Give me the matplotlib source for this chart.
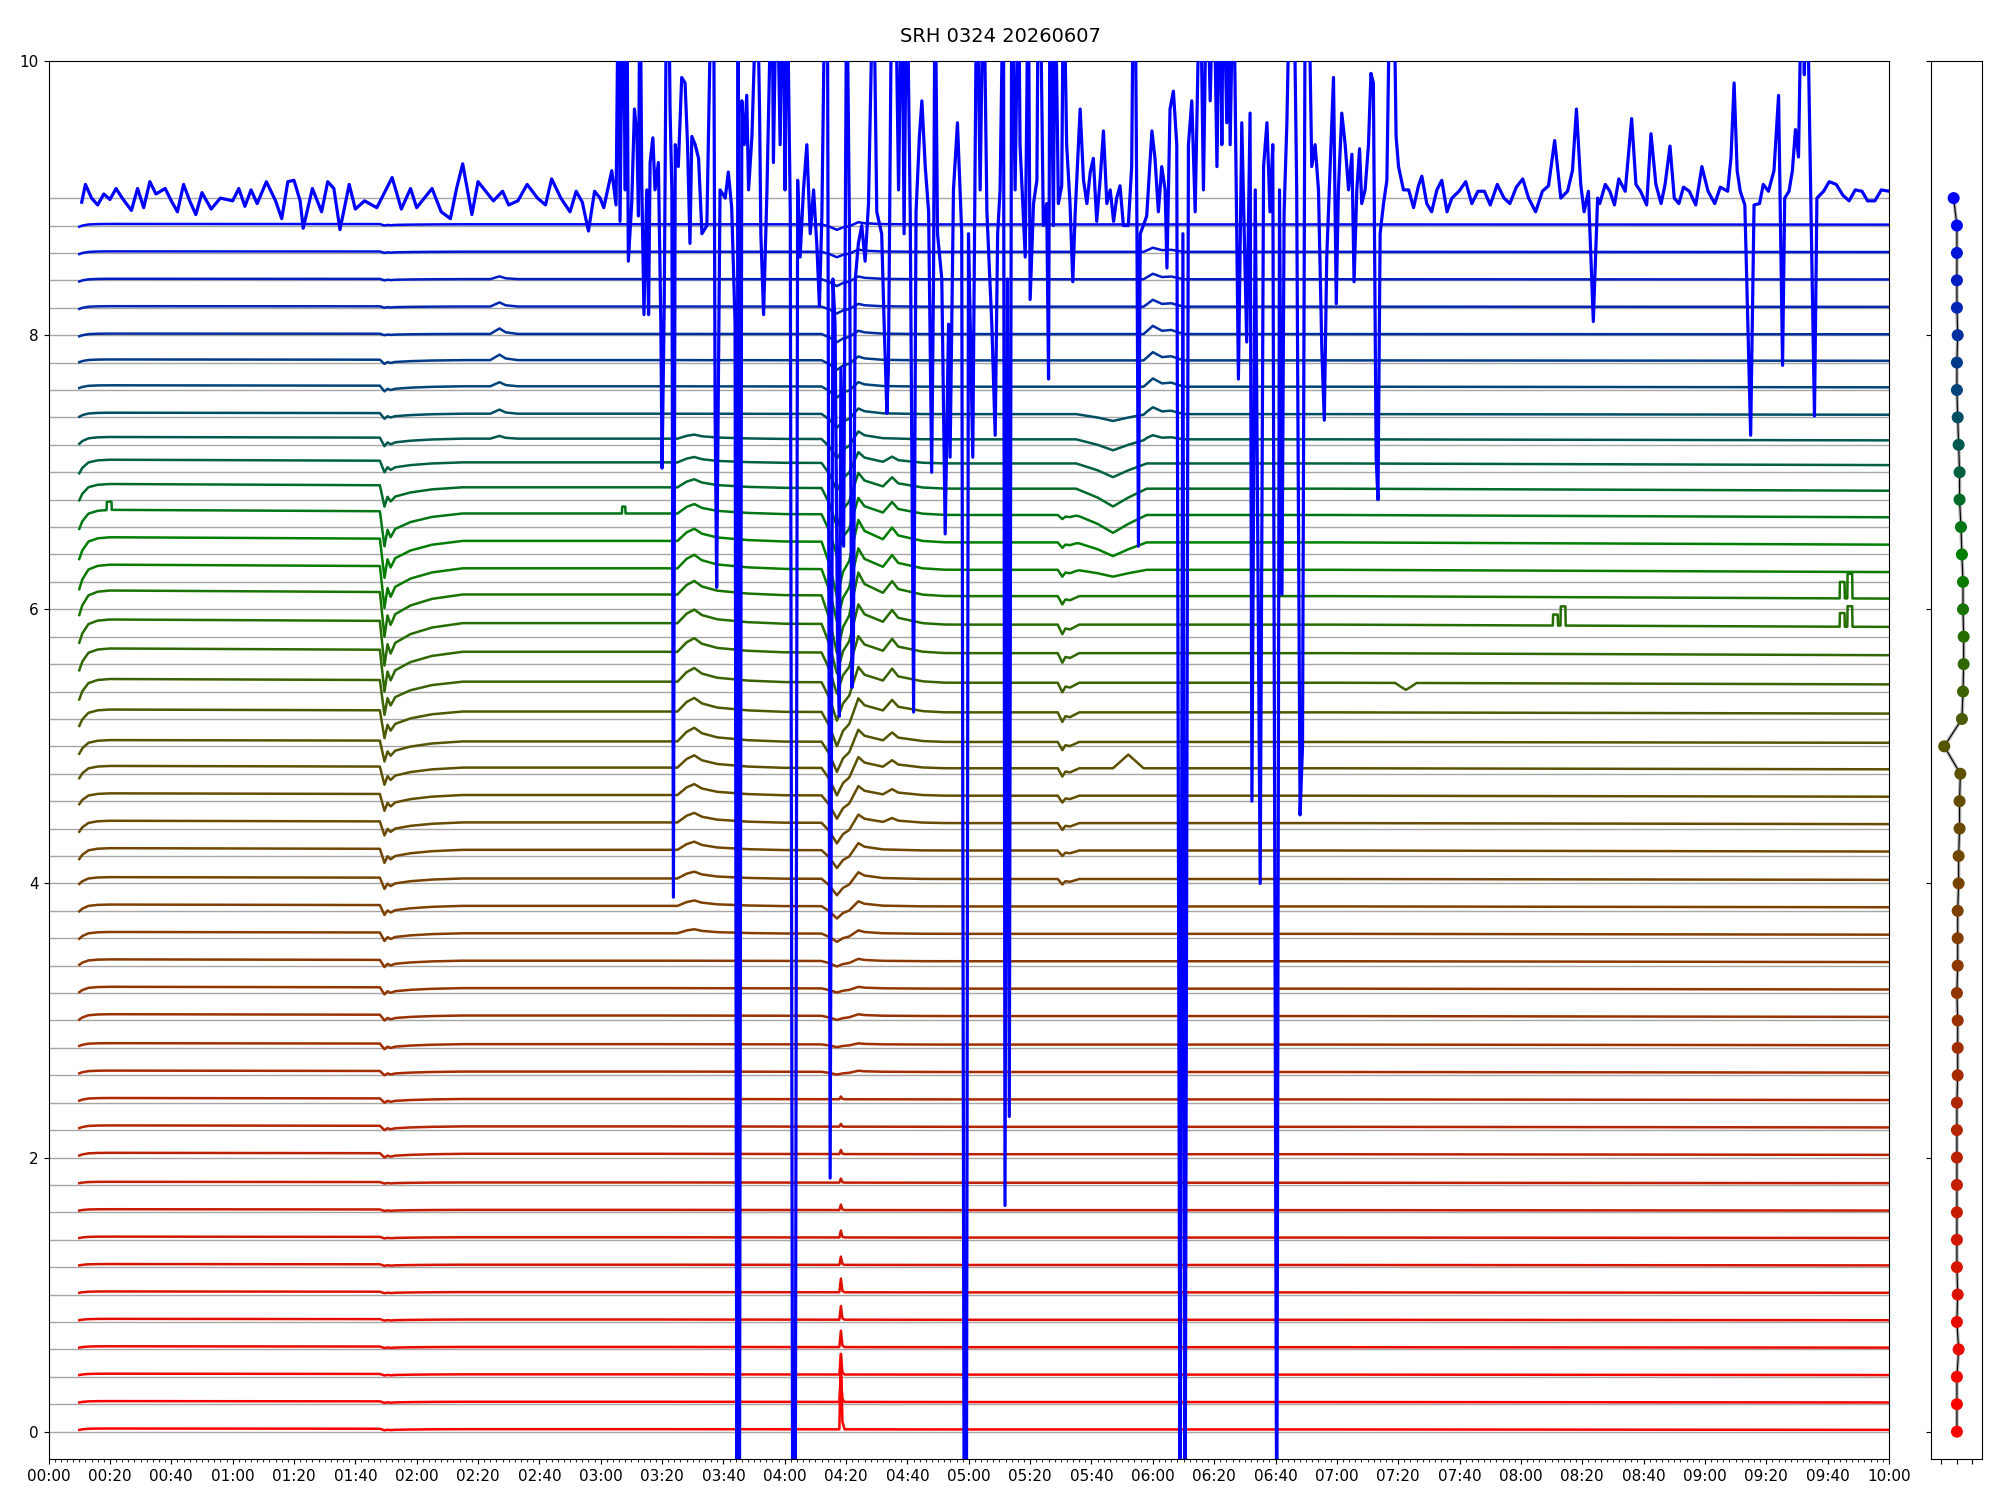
import numpy as np
import matplotlib
matplotlib.use("Agg")
import matplotlib.pyplot as plt
from matplotlib.colors import LinearSegmentedColormap
from matplotlib.ticker import MultipleLocator, FuncFormatter

# ---------------- data ----------------
N_TRACES = 46
STEP = 0.2
offsets = [round(STEP * k, 1) for k in range(N_TRACES)]
T_START, T_END = 10.0, 600.0   # minutes since 00:00

# level of each trace above its grey baseline
lvl = [0.02]*10 + [0.03]*5 + [0.04]*6 + [0.05]*4 + \
      [0.04, 0.06, 0.08, 0.10, 0.11, 0.12, 0.11, 0.11, 0.11, 0.10, 0.08, 0.05, 0.03, 0.03, 0.02] + \
      [0.01]*5 + [0.0]
# slow drift of the level over the day (factor)
drift_t = [10, 60, 108, 112, 200, 250, 300, 420, 480, 600]
drift_v = [1.15, 1.10, 1.05, 0.90, 0.90, 0.85, 0.80, 0.80, 0.75, 0.65]

# start-of-record rise (deficit at 00:10)
a_start = [0.01]*10 + [0.02]*5 + [0.04]*3 + [0.05]*3 + [0.08]*3 + \
          [0.09, 0.10, 0.12, 0.15, 0.16, 0.17, 0.18, 0.18, 0.16, 0.14, 0.12, 0.10, 0.05, 0.03] + \
          [0.02]*7 + [0.0]
start_t = [10, 11, 13, 16, 20]
start_v = [-1, -0.6, -0.2, -0.05, 0]

# dip at 01:50
a_dip150 = [0.01]*10 + [0.03]*4 + \
           [0.04, 0.04, 0.05, 0.05, 0.06, 0.07, 0.08, 0.10, 0.10, 0.12, 0.13, 0.15, 0.20,
            0.25, 0.30, 0.32, 0.32, 0.30, 0.28, 0.25, 0.15, 0.08, 0.06, 0.04, 0.04, 0.03] + \
           [0.01]*5 + [0.0]
dip150_t = [108, 109.5, 110.5, 111.5, 113, 118, 125, 135]
dip150_v = [0, -1, -0.5, -0.7, -0.45, -0.25, -0.1, 0]

# small bump at 02:28 (blue rows)
a_bump228 = [0.0]*36 + [0.02, 0.03, 0.03, 0.04, 0.04, 0.03, 0.02] + [0.0]*3
bump228_t = [144, 147, 149, 153]
bump228_v = [0, 1, 0.3, 0]

# bump at 03:30
a_bump330 = [0.0]*18 + [0.03, 0.04, 0.05, 0.06, 0.07, 0.08, 0.09, 0.10, 0.10, 0.10, 0.10,
                        0.10, 0.10, 0.10, 0.09, 0.07, 0.06, 0.04, 0.03] + [0.0]*9
bump330_t = [205, 208, 210.5, 213, 218, 228, 240]
bump330_v = [0, 0.7, 1, 0.6, 0.3, 0.1, 0]

# deep dip at 04:17
a_dip417 = [0.0]*13 + [0.02, 0.02, 0.03, 0.03, 0.04, 0.06, 0.09, 0.12, 0.13, 0.15, 0.17,
                       0.20, 0.22, 0.25, 0.28, 0.30, 0.36, 0.42, 0.38, 0.40, 0.30, 0.28,
                       0.20, 0.14, 0.10, 0.08, 0.07, 0.06, 0.05, 0.05, 0.04, 0.04] + [0.0]
dip417_t = [252, 254.5, 257, 259, 261, 264, 266, 272, 285]
dip417_v = [0, -0.4, -1, -0.55, -0.35, 0.4, 0.2, 0.05, 0]

# spike at 04:18 (lowest rows)
a_spike418 = [0.55, 0.20, 0.15, 0.12, 0.10, 0.10, 0.06, 0.05, 0.04, 0.03, 0.03, 0.02, 0.02] + [0.0]*33
spike418_t = [257.8, 258.3, 258.8, 259.5]
spike418_v = [0, 1, 0.1, 0]

# bump at 04:35
a_bump435 = [0.0]*22 + [0.03, 0.04, 0.05, 0.06, 0.08, 0.09, 0.09, 0.09, 0.09, 0.09, 0.09,
                        0.08, 0.07, 0.04] + [0.0]*10
bump435_t = [272, 275, 277, 285, 292]
bump435_v = [0, 1, 0.4, 0.1, 0]

# notch at 05:30
a_notch530 = [0.0]*20 + [0.04, 0.04, 0.05, 0.05, 0.06, 0.06, 0.07, 0.07, 0.07, 0.07, 0.06,
                         0.05, 0.04, 0.03] + [0.0]*12
notch530_t = [329, 330.5, 331.5, 333, 336]
notch530_v = [0, -1, -0.4, -0.5, 0]

# broad dip at 05:47
a_dip547 = [0.0]*31 + [0.05, 0.10, 0.13, 0.13, 0.10, 0.08, 0.05] + [0.0]*8
dip547_t = [335, 342, 347, 352, 358]
dip547_v = [0, -0.5, -1, -0.5, 0]

# bump at 06:00 (blue rows)
a_bump600 = [0.0]*36 + [0.03, 0.05, 0.06, 0.06, 0.06, 0.05, 0.04, 0.03] + [0.0]*2
bump600_t = [357, 360, 363, 366, 370]
bump600_v = [0, 1, 0.4, 0.5, 0]

# single-trace features: (trace index, times, values)
extra_k = [24, 27, 29, 29, 30, 33, 33]
extra_t = [[347, 350, 352, 354, 357],
           [439, 441, 442.5, 444, 446],
           [490.4, 490.5, 492, 492.1, 492.9, 493, 494.5, 494.6],
           [583.9, 584, 585.5, 585.6, 586.4, 586.5, 588, 588.1],
           [583.9, 584, 585.5, 585.6, 586.4, 586.5, 588, 588.1],
           [18.9, 19, 20.5, 20.6],
           [186.9, 187, 188, 188.1]]
extra_v = [[0, 0.06, 0.10, 0.06, 0],
           [0, -0.03, -0.05, -0.03, 0],
           [0, 0.08, 0.08, 0, 0, 0.14, 0.14, 0],
           [0, 0.10, 0.10, 0, 0, 0.15, 0.15, 0],
           [0, 0.12, 0.12, 0, 0, 0.18, 0.18, 0],
           [0, 0.06, 0.06, 0],
           [0, 0.05, 0.05, 0]]

# top (noisiest) trace, absolute values; 10.8 / -1.0 = off scale
HI, LO = 10.8, -1.0
top_pts = [
    (10.8, 8.97), (12, 9.1), (14, 9.0), (16, 8.95), (18, 9.03), (20, 8.99), (22, 9.07), (24, 9.0),
    (27, 8.91), (29, 9.07), (31, 8.93), (33, 9.12), (35, 9.03), (38, 9.07), (40, 8.98), (42, 8.9),
    (44, 9.1), (46, 8.98), (48, 8.88), (50, 9.04), (53, 8.92), (56, 9.0), (60, 8.98), (62, 9.07),
    (64, 8.94), (66, 9.06), (68, 8.96), (71, 9.12), (74, 8.98), (76, 8.85), (78, 9.12), (80, 9.13),
    (82, 8.98), (83, 8.78), (86, 9.07), (89, 8.9), (91, 9.12), (93, 9.07), (95, 8.77), (98, 9.1),
    (100, 8.92), (103, 8.98), (107, 8.93), (112, 9.15), (115, 8.92), (118, 9.07), (120, 8.93),
    (125, 9.07), (128, 8.9), (131, 8.85), (133, 9.07), (135, 9.25), (138, 8.88), (140, 9.12),
    (145, 8.98), (148, 9.05), (150, 8.95), (153, 8.98), (156, 9.1), (159.4, 9.0), (162, 8.95),
    (164, 9.14), (167, 9.0), (170, 8.9), (172, 9.05), (174, 8.97), (176, 8.76), (178, 9.05),
    (179.8, 9.0), (181, 8.93), (183.6, 9.2), (185, 8.95), (185.8, HI), (186.3, 8.83), (187.2, HI),
    (188.0, 9.06), (188.5, HI), (189.0, 8.54), (190.1, 8.96), (191.0, 9.65), (191.8, 9.45),
    (192.3, 8.87), (192.8, HI), (193.4, 9.09), (194.1, 8.15), (195.0, 9.06), (195.6, 8.15),
    (196.1, 9.26), (197.0, 9.44), (197.7, 9.06), (198.8, 9.26), (199.6, 8.08), (200.0, 7.03),
    (200.7, 8.21), (201.5, HI), (202.1, HI), (202.6, 9.65), (203.2, 9.06), (203.7, 3.9),
    (204.3, 9.39), (205.3, 9.23), (206.4, 9.88), (207.5, 9.84), (208.3, 9.39), (209.1, 8.67),
    (209.7, 9.45), (210.8, 9.39), (211.9, 9.29), (213.0, 8.74), (214.6, 8.8), (216.2, HI),
    (216.8, HI), (217.3, 7.43), (217.8, 6.16), (218.9, 9.06), (220.6, 9.0), (221.6, 9.19),
    (222.7, 8.93), (223.8, 8.08), (224.4, LO), (224.8, HI), (225.2, LO), (226.0, 9.71),
    (226.8, 9.39), (227.6, 9.75), (228.2, 9.06), (229.3, 9.45), (230.0, 9.97), (230.9, HI),
    (231.8, 9.62), (232.2, 8.74), (233.1, 8.15), (234.2, 9.06), (235.8, HI), (236.3, 9.26),
    (237.4, HI), (238.5, 9.39), (239.6, HI), (240.1, 9.06), (240.7, HI), (241.8, 8.9),
    (242.6, LO), (243.4, LO), (244.2, 9.13), (245.0, 8.57), (246.1, 9.06), (247.2, 9.39),
    (248.3, 8.74), (249.4, 9.06), (250.5, 8.64), (251.3, 8.21), (252.1, 8.87), (253.2, HI),
    (253.9, HI), (254.8, 1.85), (255.7, 8.41), (256.4, 8.08), (257.2, 5.8), (257.8, 5.22),
    (258.3, 7.76), (259.2, 6.46), (260.2, HI), (261.1, 8.74), (261.9, 5.43), (262.4, 5.8),
    (263.0, 8.41), (264.0, 8.67), (265.1, 8.8), (266.2, 8.54), (267.3, 8.96), (268.9, HI),
    (270.0, 8.9), (271.6, 8.74), (272.4, 8.08), (273.3, 7.43), (273.8, 7.76), (274.9, HI),
    (276.0, HI), (277.1, 9.06), (278.2, HI), (278.9, 8.74), (279.8, HI), (280.9, 8.9),
    (282.0, 5.25), (282.8, 8.9), (283.9, 9.45), (284.7, 9.71), (285.8, 9.23), (286.9, 8.9),
    (287.9, 7.0), (288.5, 8.41), (289.0, HI), (289.8, 8.74), (291.2, 8.41), (292.3, 6.55),
    (293.4, 8.08), (293.9, 7.11), (295.0, 9.06), (296.3, 9.55), (297.7, 8.74), (298.5, LO),
    (299.2, LO), (299.9, 8.74), (301.3, 7.11), (302.6, HI), (303.7, 9.06), (304.8, HI),
    (305.9, 8.9), (307.5, 8.08), (308.6, 7.27), (309.4, 8.74), (310.2, 9.06),
    (311.3, HI), (311.8, 1.65), (312.6, 8.41), (313.2, 2.3), (314.0, HI), (315.1, 9.06),
    (316.2, HI), (316.7, 9.39), (318.4, 8.57), (319.4, HI), (320.0, 8.26), (321.1, 8.96),
    (322.2, 9.13), (322.7, HI), (323.2, HI), (324.3, 8.8), (325.4, 8.96), (326.0, 7.68),
    (326.5, HI), (327.6, 8.8), (328.1, HI), (329.2, 8.96), (330.3, 9.09), (330.9, HI),
    (331.9, 9.39), (333.0, 8.96), (333.9, 8.39), (334.7, 8.9), (336.3, 9.65), (337.4, 9.13),
    (338.5, 8.96), (339.6, 9.19), (340.6, 9.29), (341.7, 8.83), (342.8, 9.13), (343.9, 9.49),
    (345.0, 8.96), (346.1, 9.06), (347.2, 8.83), (348.2, 9.0), (349.3, 9.09), (350.4, 8.8),
    (352.0, 8.8), (353.1, 9.23), (353.7, HI), (354.2, HI), (354.8, 8.83), (355.3, 6.46),
    (355.9, 8.74), (356.9, 8.8), (358.0, 8.87), (359.7, 9.49), (360.7, 9.29), (361.8, 8.9),
    (362.9, 9.23), (364.0, 9.06), (364.6, 8.49), (365.6, 9.65), (366.7, 9.78), (367.8, 9.39),
    (368.9, LO), (369.8, 8.74), (370.5, LO), (371.6, 9.39), (372.7, 9.71), (373.8, 8.9),
    (375.4, HI), (376.5, 9.06), (377.6, HI), (378.7, 9.71), (379.8, HI), (380.9, 9.23),
    (381.9, HI), (382.5, 9.39), (383.0, HI), (384.1, 9.55), (384.7, HI), (385.2, 9.39),
    (386.3, HI), (387.9, 7.68), (389.0, 9.55), (390.6, 7.95), (391.7, 9.62), (392.3, 4.6),
    (393.4, 9.06), (395.0, 4.0), (396.1, 9.23), (397.2, 9.55), (398.2, 8.9), (399.1, 9.39),
    (400.4, LO), (401.3, 9.06), (402.1, 6.11), (402.8, 8.9), (403.7, 9.55), (404.8, HI),
    (405.9, HI), (406.9, 9.06), (408.0, 4.5), (408.8, 5.0), (409.7, HI), (410.7, HI),
    (411.8, 9.23), (412.9, 9.39), (414.0, 9.06), (415.1, 7.89), (415.9, 7.38), (416.7, 8.57),
    (417.8, 9.23), (418.9, 9.88), (419.8, 8.23), (420.5, 9.06), (421.6, 9.62), (422.7, 9.39),
    (423.8, 9.06), (424.9, 9.32), (425.6, 8.39), (426.5, 9.06), (427.4, 9.36), (428.1, 8.96),
    (429.2, 9.06), (430.3, 9.39), (431.1, 9.91), (431.9, 9.84), (432.8, 7.11), (433.4, 6.8),
    (434.1, 8.74), (435.2, 8.96), (436.3, 9.13), (437.4, HI), (438.5, HI), (439.3, 9.45),
    (440.1, 9.23), (441.7, 9.06), (443.4, 9.06), (445.0, 8.93), (446.6, 9.09), (447.7, 9.16),
    (449.3, 8.96), (450.9, 8.9), (452.6, 9.06), (454.2, 9.13), (455.9, 8.9),
    (457.5, 9.0), (459.8, 9.05), (462, 9.12), (464, 8.96), (466, 9.05), (468.1, 9.05),
    (470, 8.95), (472.3, 9.1), (474.5, 9.0), (476.4, 8.96), (478.5, 9.08), (480.6, 9.14),
    (482.5, 9.0), (484.8, 8.9), (487, 9.05), (489, 9.09), (491, 9.42), (493, 9.0),
    (495.2, 9.05), (496.8, 9.2), (498.1, 9.65), (499.5, 9.1), (500.6, 8.9), (502, 9.05),
    (503.6, 8.1), (505, 9.0), (505.7, 8.96), (507.5, 9.1), (509, 9.05), (510.5, 8.95),
    (511.9, 9.14), (514, 9.05), (516.1, 9.58), (517.5, 9.1), (519, 9.05), (521, 8.95),
    (522.4, 9.47), (524, 9.1), (525.7, 8.96), (527, 9.1), (528.6, 9.38), (530, 9.0),
    (531.5, 8.96), (533, 9.08), (534.9, 9.05), (537, 8.95), (539, 9.23), (541, 9.05),
    (543.2, 8.96), (545, 9.08), (547.4, 9.05), (548.5, 9.3), (549.5, 9.84), (550.5, 9.2),
    (551.5, 9.05), (553, 8.95), (554.9, 7.27), (556, 8.95), (557.8, 8.96), (559, 9.1),
    (560.7, 9.05), (562.5, 9.2), (564, 9.75), (565.3, 7.78), (566, 9.0), (567.4, 9.05),
    (568.5, 9.2), (569.5, 9.5), (570.5, 9.3), (571.6, HI), (572.4, 9.9), (573.2, HI),
    (574.5, 9.0), (575.7, 7.41), (576.5, 9.0), (578.7, 9.05), (580.5, 9.12), (582.8, 9.1),
    (585, 9.02), (587, 8.98), (589, 9.06), (591.2, 9.05), (593, 8.98), (595.4, 8.98),
    (597.5, 9.06), (600, 9.05),
]
top_t = [p[0] for p in top_pts]
top_v = [p[1] for p in top_pts]

# right panel: x position of each channel marker
panel_x = [0.02, 0.02, 0.02, 0.13, 0.02, 0.07, 0.02, 0.02, 0.02, 0.02,
           0.02, 0.02, 0.02, 0.07, 0.07, 0.07, 0.02, 0.07, 0.07, 0.07,
           0.13, 0.13, 0.19, 0.19, 0.24, -0.79, 0.34, 0.41, 0.45, 0.45,
           0.41, 0.41, 0.34, 0.28, 0.19, 0.19, 0.13, 0.07, 0.02, 0.02,
           0.07, 0.02, 0.02, 0.02, 0.02, -0.19]

title = "SRH 0324 20260607"

# ---------------- drawing ----------------
events = [
    (start_t, start_v, a_start), (dip150_t, dip150_v, a_dip150),
    (bump228_t, bump228_v, a_bump228), (bump330_t, bump330_v, a_bump330),
    (dip417_t, dip417_v, a_dip417), (spike418_t, spike418_v, a_spike418),
    (bump435_t, bump435_v, a_bump435), (notch530_t, notch530_v, a_notch530),
    (dip547_t, dip547_v, a_dip547), (bump600_t, bump600_v, a_bump600),
]


def build(k):
    times = {T_START, T_END}
    times.update(drift_t)
    comps = []
    for tt, vv, amp in events:
        if amp[k] != 0:
            times.update(tt)
            comps.append((tt, vv, amp[k]))
    for kk, tt, vv in zip(extra_k, extra_t, extra_v):
        if kk == k:
            times.update(tt)
            comps.append((tt, vv, 1.0))
    ts = np.array(sorted(times))
    ts = ts[(ts >= T_START) & (ts <= T_END)]
    vals = offsets[k] + lvl[k] * np.interp(ts, drift_t, drift_v)
    for tt, vv, a in comps:
        vals = vals + a * np.interp(ts, tt, vv, left=0, right=0)
    return ts, vals


cmap = LinearSegmentedColormap.from_list(
    "srh", [(0.0, (1, 0, 0)), (25 / 45, (0.33, 0.33, 0.0)),
            (32 / 45, (0.0, 0.5, 0.0)), (1.0, (0, 0, 1))])
colors = [cmap(k / (N_TRACES - 1)) for k in range(N_TRACES)]

fig = plt.figure(figsize=(20, 15), dpi=100)
ax = fig.add_axes([0.0243, 0.0273, 0.9202, 0.932])
axp = fig.add_axes([0.9654, 0.0273, 0.0258, 0.932], sharey=ax)

for k in range(N_TRACES):
    ax.axhline(offsets[k], color="0.65", lw=1.0, zorder=1)
for k in range(N_TRACES - 1):
    ts, vs = build(k)
    ax.plot(ts, vs, color=colors[k], lw=1.8, zorder=2)
ax.plot(top_t, top_v, color=colors[-1], lw=2.3, zorder=3)

ax.set_xlim(0, 600)
ax.set_ylim(-0.2, 10)
ax.set_yticks([0, 2, 4, 6, 8, 10])
ax.xaxis.set_major_locator(MultipleLocator(20))
ax.xaxis.set_minor_locator(MultipleLocator(2))
ax.xaxis.set_major_formatter(FuncFormatter(lambda x, p: f"{int(x // 60):02d}:{int(round(x % 60)):02d}"))
ax.tick_params(labelsize=11)

axp.plot(panel_x, offsets, color="0.7", lw=2.5, zorder=1)
axp.plot(panel_x, offsets, color="k", lw=0.8, zorder=2)
axp.scatter(panel_x, offsets, c=colors, s=75, zorder=3, edgecolors="none")
axp.set_xlim(-1.65, 1.65)
axp.set_xticks([-1, 0, 1])
axp.tick_params(labelbottom=False, labelleft=False)

fig.suptitle(title, fontsize=14, y=0.982)
fig.savefig("out.png", dpi=100)
